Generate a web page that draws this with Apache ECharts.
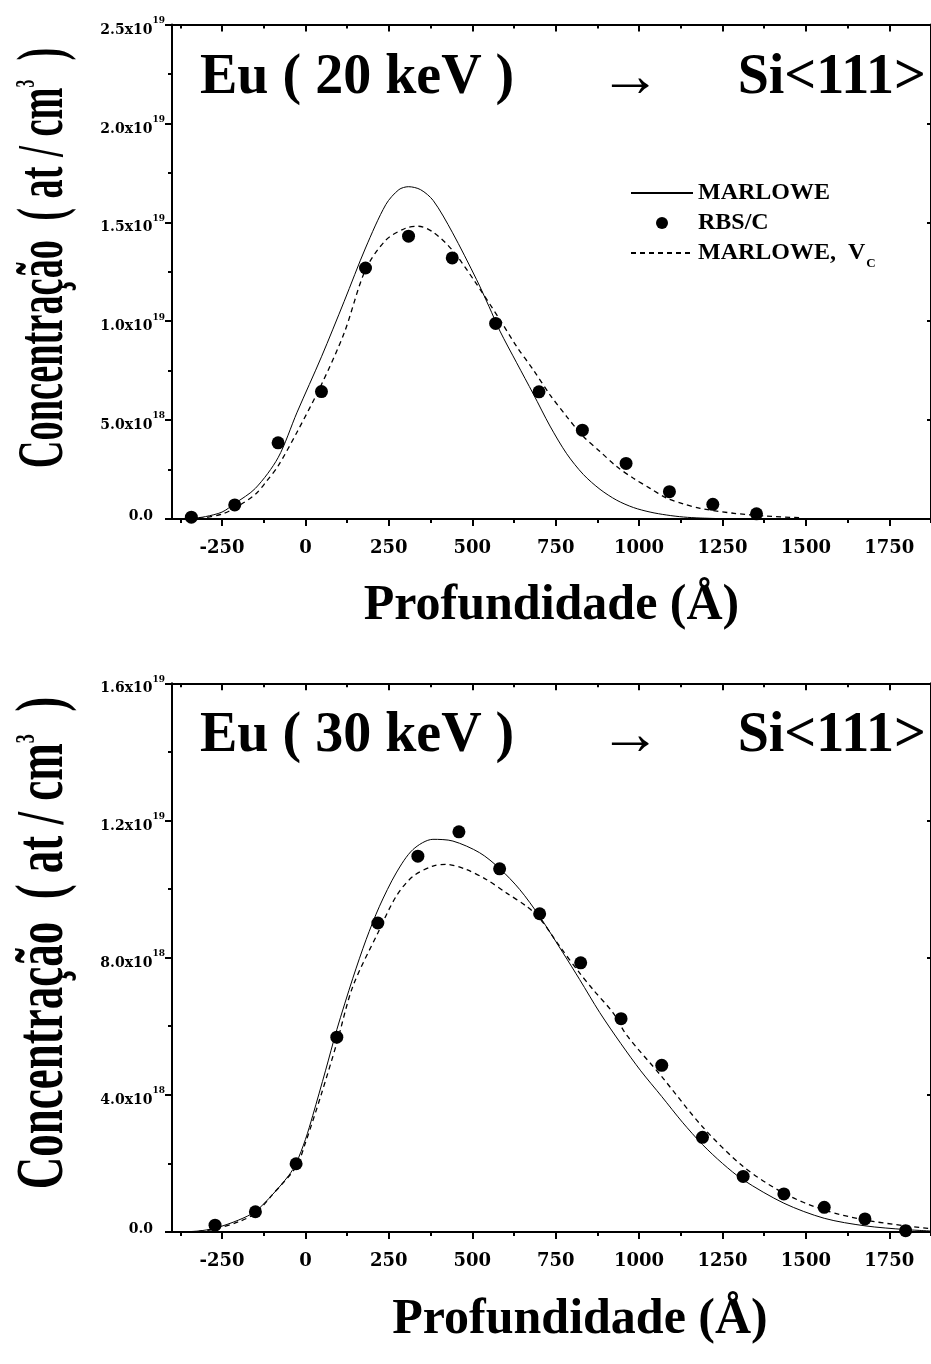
<!DOCTYPE html>
<html><head><meta charset="utf-8">
<script src="https://cdn.jsdelivr.net/npm/echarts@6/dist/echarts.min.js"></script>
<style>html,body{margin:0;padding:0;background:#fff}#c{width:931px;height:1364px}</style>
</head><body><div id="c"></div>
<script>
const UNIT = 1e19; // concentrations below are in units of 10^19 at/cm^3

// ---- Eu (20 keV) -> Si<111> ----
const rbsX20 = [-342, -212, -82, 48, 180, 309, 440, 570, 700, 830, 961, 1091, 1221, 1352];
const rbsY20 = [0.009, 0.071, 0.385, 0.644, 1.269, 1.430, 1.320, 0.989, 0.643, 0.449, 0.281, 0.138, 0.074, 0.026];
const marlX20 = [-375, -340, -300, -250, -212, -150, -82, -25, 48, 116, 180, 241, 280, 309, 345, 383, 440, 513, 550, 583, 633, 683, 733, 783, 833, 883, 933, 983, 1033, 1083, 1133, 1183, 1283];
const marlY20 = [0, 0.003, 0.012, 0.035, 0.078, 0.155, 0.31, 0.54, 0.82, 1.10, 1.37, 1.59, 1.665, 1.68, 1.665, 1.61, 1.45, 1.21, 1.075, 0.95, 0.79, 0.632, 0.47, 0.33, 0.225, 0.15, 0.095, 0.058, 0.035, 0.02, 0.01, 0.005, 0.0];
const vcX20 = [-375, -340, -300, -250, -212, -150, -117, -82, -25, 48, 116, 180, 241, 300, 339, 383, 440, 508, 583, 633, 683, 733, 783, 833, 883, 933, 983, 1033, 1083, 1133, 1183, 1283, 1383, 1483];
const vcY20 = [0, 0.002, 0.007, 0.025, 0.055, 0.125, 0.19, 0.268, 0.44, 0.68, 0.94, 1.26, 1.41, 1.47, 1.48, 1.45, 1.36, 1.20, 1.007, 0.872, 0.754, 0.628, 0.518, 0.417, 0.341, 0.265, 0.206, 0.155, 0.105, 0.076, 0.054, 0.029, 0.015, 0.006];

// ---- Eu (30 keV) -> Si<111> ----
const rbsX30 = [-271, -150, -28, 94, 217, 337, 460, 582, 702, 825, 946, 1068, 1190, 1312, 1434, 1555, 1677, 1799];
const rbsY30 = [0.020, 0.059, 0.199, 0.568, 0.901, 1.096, 1.167, 1.059, 0.928, 0.785, 0.622, 0.486, 0.276, 0.162, 0.111, 0.072, 0.038, 0.004];
const marlX30 = [-375, -320, -271, -200, -150, -98, -50, -28, 0, 22, 60, 94, 142, 182, 222, 272, 322, 382, 442, 522, 582, 642, 702, 772, 822, 882, 945, 1005, 1068, 1130, 1190, 1250, 1312, 1434, 1555, 1677, 1799, 1875];
const marlY30 = [0, 0.003, 0.011, 0.035, 0.06, 0.11, 0.165, 0.2, 0.27, 0.34, 0.47, 0.59, 0.74, 0.853, 0.95, 1.047, 1.115, 1.145, 1.14, 1.106, 1.06, 0.999, 0.92, 0.814, 0.736, 0.64, 0.55, 0.47, 0.395, 0.32, 0.255, 0.20, 0.152, 0.084, 0.04, 0.018, 0.007, 0.003];
const vcX30 = [-375, -320, -271, -200, -150, -98, -28, 0, 47, 94, 142, 217, 272, 322, 382, 422, 482, 542, 602, 662, 702, 762, 822, 862, 922, 962, 1068, 1190, 1312, 1434, 1555, 1677, 1799, 1875];
const vcY30 = [0, 0.002, 0.009, 0.03, 0.055, 0.11, 0.19, 0.26, 0.40, 0.551, 0.716, 0.872, 0.979, 1.037, 1.067, 1.072, 1.057, 1.028, 0.989, 0.95, 0.915, 0.833, 0.755, 0.707, 0.639, 0.575, 0.453, 0.307, 0.191, 0.113, 0.064, 0.035, 0.018, 0.01];

// ---- axes ----
const xMin = -400, xMax = 1875;
const xMajorTicks = [-250, 0, 250, 500, 750, 1000, 1250, 1500, 1750];
const xMinorTicks = [-375, -125, 125, 375, 625, 875, 1125, 1375, 1625, 1875];
const yMax20 = 2.5e19, yStep20 = 5e18;
const yMax30 = 1.6e19, yStep30 = 4e18;

const xTitle = 'Profundidade (Å)';
const yTitle = 'Concentração  ( at / cm{s|3}  )';
const titles20 = ['Eu ( 20 keV )', '→', 'Si<111>'];
const titles30 = ['Eu ( 30 keV )', '→', 'Si<111>'];
const legendNames = ['MARLOWE', 'RBS/C', 'MARLOWE, Vc'];

const SERIF = 'Liberation Serif';
const TICKF = 'DejaVu Serif';
const pairs = (xs, ys) => xs.map((x, i) => [x, ys[i] * UNIT]);

function yLab(v) {
  if (v === 0) return '{z|0.0}{p| }';
  const e = Math.floor(Math.log10(v) + 1e-9);
  const m = v / Math.pow(10, e);
  return '{b|' + m.toFixed(1) + 'x10}{s|' + e + '}';
}
const yRich = {
  b: {fontFamily: TICKF, fontWeight: 'bold', fontSize: 14, lineHeight: 14, color: '#000', padding: [11, 0, 0, 0]},
  s: {fontFamily: TICKF, fontWeight: 'bold', fontSize: 9, lineHeight: 9, color: '#000', padding: [4, 0, 12, 0]},
  z: {fontFamily: TICKF, fontWeight: 'bold', fontSize: 14, lineHeight: 14, color: '#000', padding: [0, 0, 6, 0]},
  p: {fontSize: 13, width: 12}
};
const AX = {color: '#000', width: 2};
const xFmt = v => String(v);

function xAxes(gi, nameGap, namePad) {
  return [
    {gridIndex: gi, type: 'value', position: 'bottom', min: xMin, max: xMax,
     axisLine: {show: true, onZero: false, lineStyle: AX},
     axisTick: {show: true, customValues: xMajorTicks, length: 7, lineStyle: AX},
     axisLabel: {show: true, customValues: xMajorTicks, formatter: xFmt, margin: 20, color: '#000',
                 fontFamily: TICKF, fontWeight: 'bold', fontSize: 18},
     splitLine: {show: false},
     name: xTitle, nameLocation: 'middle', nameGap: nameGap,
     nameTextStyle: {fontFamily: SERIF, fontWeight: 'bold', fontSize: 50, color: '#000', padding: namePad}},
    {gridIndex: gi, type: 'value', position: 'bottom', min: xMin, max: xMax,
     axisLine: {show: false, onZero: false},
     axisTick: {show: true, customValues: xMinorTicks, length: 4, lineStyle: AX},
     axisLabel: {show: false}, splitLine: {show: false}},
    {gridIndex: gi, type: 'value', position: 'top', min: xMin, max: xMax,
     axisLine: {show: true, onZero: false, lineStyle: AX},
     axisTick: {show: true, inside: true, customValues: xMajorTicks, length: 7, lineStyle: AX},
     axisLabel: {show: false}, splitLine: {show: false}},
    {gridIndex: gi, type: 'value', position: 'top', min: xMin, max: xMax,
     axisLine: {show: false, onZero: false},
     axisTick: {show: true, inside: true, customValues: xMinorTicks, length: 4, lineStyle: AX},
     axisLabel: {show: false}, splitLine: {show: false}}
  ];
}
function yAxes(gi, max, step) {
  return [
    {gridIndex: gi, type: 'value', position: 'left', min: 0, max: max, interval: step,
     axisLine: {show: true, onZero: false, lineStyle: AX},
     axisTick: {show: true, length: 7, lineStyle: AX},
     minorTick: {show: true, splitNumber: 2, length: 4, lineStyle: AX},
     axisLabel: {show: true, margin: 7, formatter: yLab, rich: yRich},
     splitLine: {show: false}, minorSplitLine: {show: false}},
    {gridIndex: gi, type: 'value', position: 'right', min: 0, max: max, interval: step,
     axisLine: {show: true, onZero: false, lineStyle: AX},
     axisTick: {show: true, inside: true, length: 4, lineStyle: AX},
     axisLabel: {show: false}, splitLine: {show: false}}
  ];
}

function titleItems(texts, top) {
  const ts = {fontFamily: SERIF, fontWeight: 'bold', fontSize: 56, color: '#000'};
  const arrow = {fontFamily: SERIF, fontWeight: 'normal', fontSize: 62, color: '#000'};
  return [
    {text: texts[0], left: 200, top: top, padding: 0, textStyle: ts},
    {text: texts[1], left: 599, top: top - 2, padding: 0, textStyle: arrow},
    {text: texts[2], right: 5, top: top, padding: 0, textStyle: ts}
  ];
}

const solid = {color: '#000', width: 1};
const dashed = {color: '#000', width: 1.3, type: [5, 4]};
const hiddenDot = {color: '#000', opacity: 0};

function seriesFor(gi, mx, my, rx, ry, vx, vy, suffix) {
  const xi = gi * 4, yi = gi * 2;
  return [
    {name: legendNames[0] + suffix, type: 'line', xAxisIndex: xi, yAxisIndex: yi,
     data: pairs(mx, my), symbol: 'none', smooth: 0.3, lineStyle: solid, itemStyle: hiddenDot, z: 2},
    {name: legendNames[2] + suffix, type: 'line', xAxisIndex: xi, yAxisIndex: yi,
     data: pairs(vx, vy), symbol: 'none', smooth: 0.3, lineStyle: dashed, itemStyle: hiddenDot, z: 2},
    {name: legendNames[1] + suffix, type: 'scatter', xAxisIndex: xi, yAxisIndex: yi,
     data: pairs(rx, ry), symbol: 'circle', symbolSize: 13, itemStyle: {color: '#000', opacity: 1}, z: 3}
  ];
}

const chart = echarts.init(document.getElementById('c'), null, {renderer: 'canvas'});
chart.setOption({
  animation: false,
  backgroundColor: '#fff',
  title: titleItems(titles20, 51).concat(titleItems(titles30, 709)),
  grid: [
    {left: 172, top: 24.5, right: 0, height: 494.5, containLabel: false, outerBoundsMode: 'none'},
    {left: 172, top: 683.3, right: 0, height: 548.7, containLabel: false, outerBoundsMode: 'none'}
  ],
  xAxis: xAxes(0, 62, [0, 0, 0, 0]).concat(xAxes(1, 63, [0, 0, 0, 57])),
  yAxis: yAxes(0, yMax20, yStep20).concat(yAxes(1, yMax30, yStep30)),
  legend: {
    data: [legendNames[0], legendNames[1], legendNames[2]],
    orient: 'vertical', left: 630, top: 181, itemWidth: 62, itemHeight: 12, itemGap: 6,
    selectedMode: false, padding: 0,
    formatter: n => n === legendNames[2] ? 'MARLOWE,  V{sub|C}' : n,
    textStyle: {fontFamily: SERIF, fontWeight: 'bold', fontSize: 24, color: '#000',
      rich: {sub: {fontFamily: SERIF, fontWeight: 'bold', fontSize: 13, color: '#000', padding: [22, 0, 0, 1]}}}
  },
  graphic: [
    {type: 'text', x: 45, y: 258, rotation: Math.PI / 2, scaleX: 0.96, scaleY: 1.66,
     style: {text: yTitle, fontFamily: SERIF, fontWeight: 'bold', fontSize: 40, fill: '#000',
             align: 'center', verticalAlign: 'middle',
             rich: {s: {fontFamily: SERIF, fontWeight: 'bold', fontSize: 16, fill: '#000', padding: [0, 0, 22, 0]}}}},
    {type: 'text', x: 45, y: 943, rotation: Math.PI / 2, scaleX: 1.0, scaleY: 1.48,
     style: {text: yTitle, fontFamily: SERIF, fontWeight: 'bold', fontSize: 45, fill: '#000',
             align: 'center', verticalAlign: 'middle',
             rich: {s: {fontFamily: SERIF, fontWeight: 'bold', fontSize: 18, fill: '#000', padding: [0, 0, 24, 0]}}}}
  ],
  series: seriesFor(0, marlX20, marlY20, rbsX20, rbsY20, vcX20, vcY20, '')
    .concat(seriesFor(1, marlX30, marlY30, rbsX30, rbsY30, vcX30, vcY30, ' 30'))
});
</script>
</body></html>
